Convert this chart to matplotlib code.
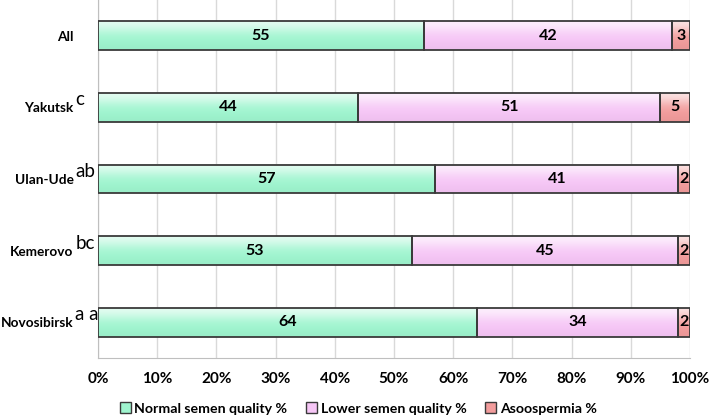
from matplotlib import pyplot as plt
from matplotlib.patches import Patch
from matplotlib.colors import to_rgb
import numpy as np

plt.rcParams['font.family'] = ['Lato', 'DejaVu Sans']

# data (top to bottom)
cities = ['All', 'Yakutsk', 'Ulan-Ude', 'Kemerovo', 'Novosibirsk']
marks = ['', 'c', 'ab', 'bc', 'a a']
normal = [55, 44, 57, 53, 64]
lower = [42, 51, 41, 45, 34]
azoo = [3, 5, 2, 2, 2]
series_names = ['Normal semen quality %', 'Lower semen quality %', 'Asoospermia %']
colors = ['#9ff5cf', '#f6c6f6', '#f29c9c']


def shade(c, f):
    c = np.array(to_rgb(c))
    if f > 0:
        return c + (1 - c) * f
    return c * (1 + f)


fig = plt.figure(figsize=(7.09, 4.17), dpi=100)
ax = fig.add_axes([0.1382, 0.1415, 0.835, 0.8585])

ypos = np.arange(len(cities))
h = 0.4
left = np.zeros(len(cities))
for vals, col in zip([normal, lower, azoo], colors):
    vals = np.array(vals, dtype=float)
    ax.barh(ypos, vals, left=left, height=h, facecolor='none',
            edgecolor='#3a3a3a', linewidth=1.3, zorder=4)
    # bevel-ish vertical gradient
    grad = np.array([shade(col, 0.7), shade(col, 0.4), shade(col, 0.1),
                     shade(col, 0.0), shade(col, -0.03)])
    for y, l, v in zip(ypos, left, vals):
        ax.imshow(grad.reshape(-1, 1, 3), extent=(l, l + v, y + h / 2, y - h / 2),
                  aspect='auto', interpolation='bicubic', zorder=3)
        ax.text(l + v / 2, y, '%d' % v, ha='center', va='center',
                fontsize=11.5, fontweight='bold', color='black', zorder=5)
    left = left + vals

ax.set_xlim(0, 100)
ax.set_ylim(len(cities) - 0.5, -0.5)
ax.set_xticks(np.arange(0, 101, 10))
ax.set_xticklabels(['%d%%' % t for t in range(0, 101, 10)])
ax.set_yticks(ypos)
ax.set_yticklabels(cities)
ax.tick_params(axis='x', length=0, pad=10, labelsize=11)
ax.tick_params(axis='y', length=0, pad=17.5, labelsize=9.8)
for lab in ax.get_xticklabels() + ax.get_yticklabels():
    lab.set_fontweight('bold')
ax.grid(axis='x', color='#d9d9d9', linewidth=1, zorder=0)
ax.set_axisbelow(True)
for s in ['top', 'right']:
    ax.spines[s].set_visible(False)
ax.spines['left'].set_color('#bfbfbf')
ax.spines['bottom'].set_color('#bfbfbf')

# superscript letters right after the city names
fig.canvas.draw()
for lab, m in zip(ax.get_yticklabels(), marks):
    if m:
        ax.annotate(m, xy=(1, 0.5), xycoords=lab,
                    xytext=(1.2, 0), textcoords='offset points',
                    ha='left', va='bottom', fontsize=13.5, color='black',
                    annotation_clip=False)

handles = [Patch(facecolor=c, edgecolor='#3a3a3a', linewidth=1) for c in colors]
fig.legend(handles, series_names, loc='lower center', bbox_to_anchor=(0.505, -0.025),
           ncol=3, frameon=False, prop={'weight': 'bold', 'size': 10.2},
           handlelength=0.8, handleheight=0.8, handletextpad=0.25, columnspacing=1.3)

fig.savefig('out.png', dpi=100)
